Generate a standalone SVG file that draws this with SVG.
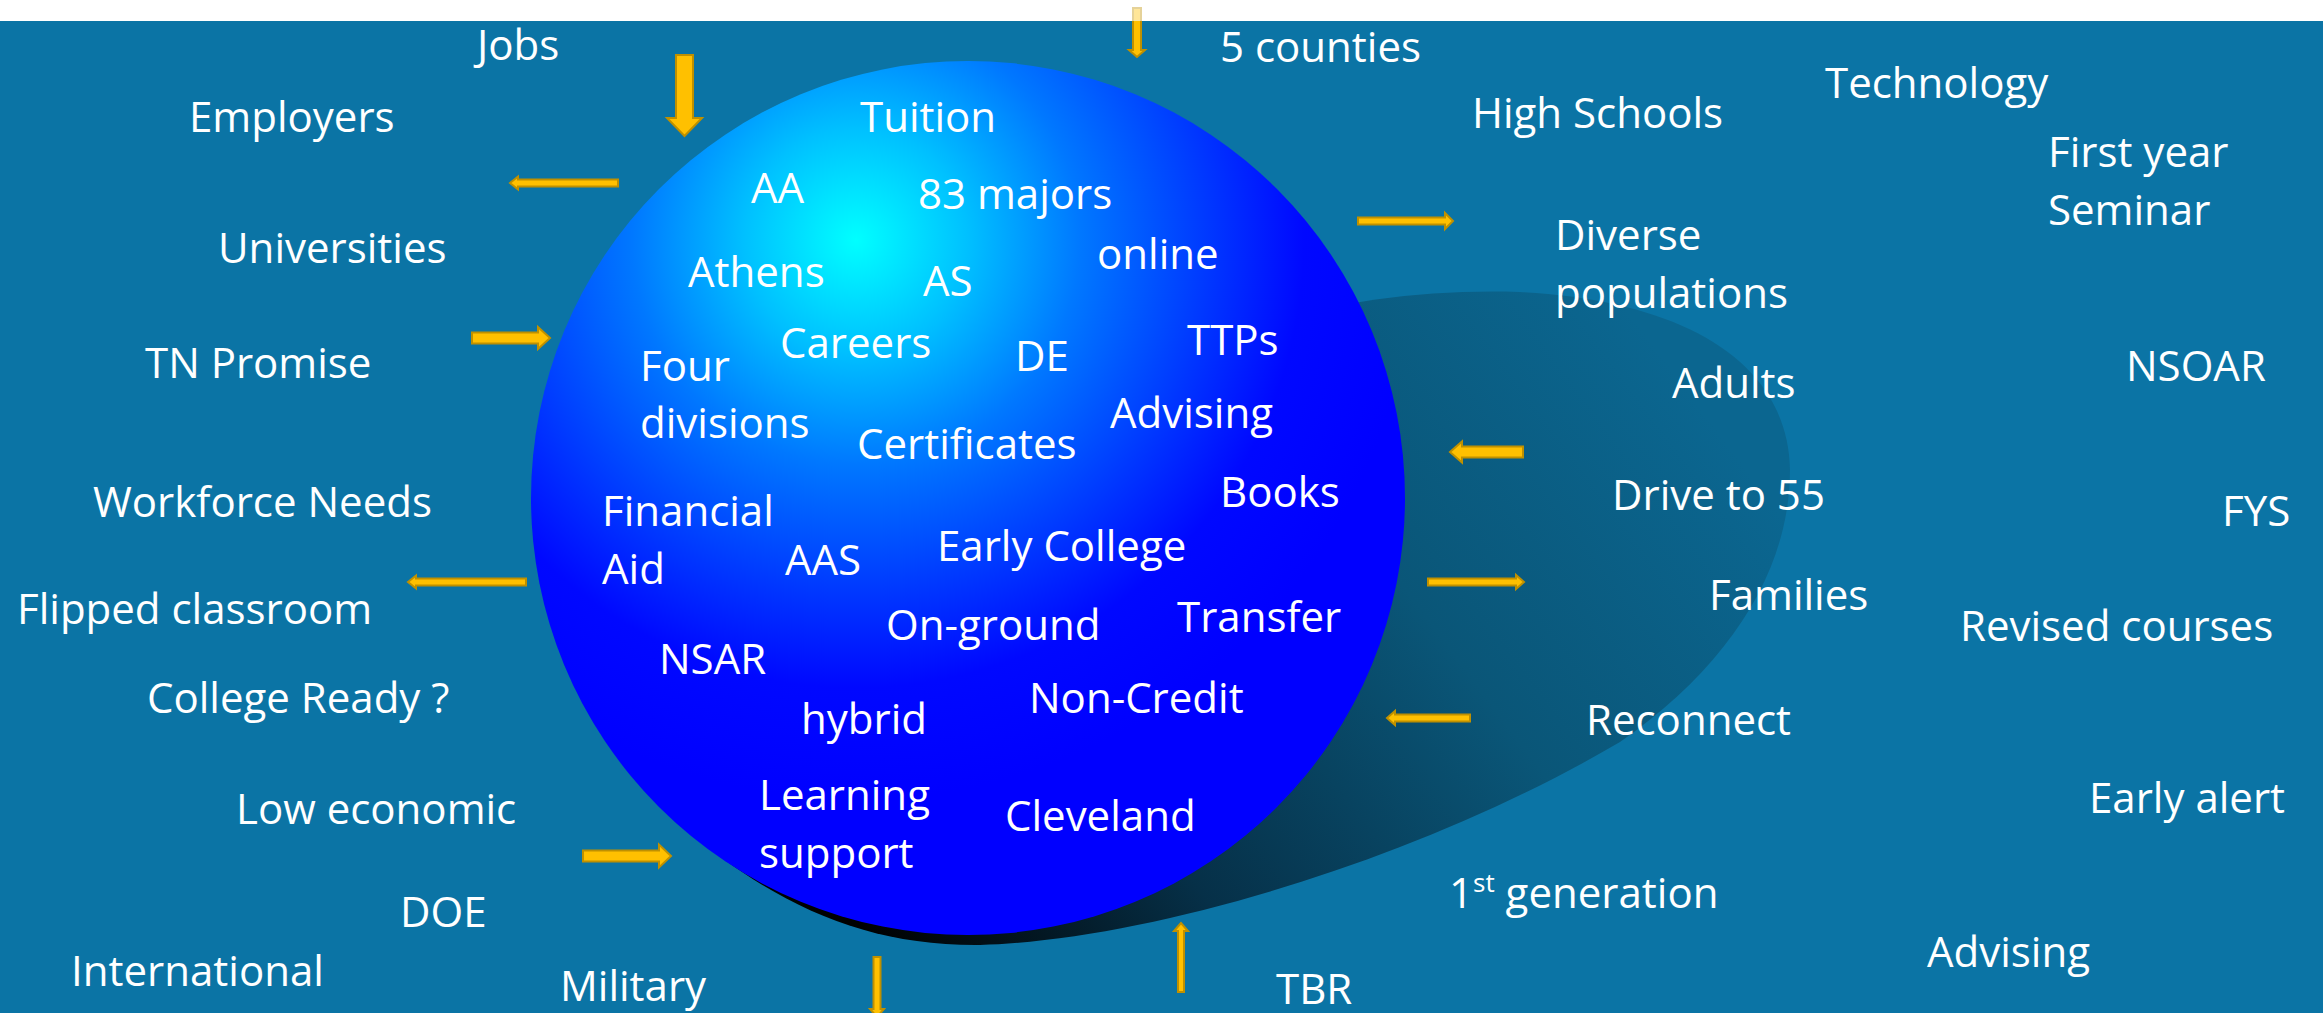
<svg xmlns="http://www.w3.org/2000/svg" width="2323" height="1013" viewBox="0 0 2323 1013">
<style>
.t{font-family:"Open Sans","Noto Sans",sans-serif;font-size:42px;fill:#ffffff}
.ar{fill:#FFC000;stroke:#BF9000;stroke-width:2;stroke-linejoin:miter}
</style>
<defs>
<radialGradient id="sph" gradientUnits="userSpaceOnUse" cx="856" cy="240" r="560" fx="856" fy="240">
<stop offset="0" stop-color="#00FFFF"/>
<stop offset="0.2" stop-color="#00C0FF"/>
<stop offset="0.4" stop-color="#0078FF"/>
<stop offset="0.6" stop-color="#0040FF"/>
<stop offset="0.8" stop-color="#0008FF"/>
<stop offset="1" stop-color="#0000FF"/>
</radialGradient>
<linearGradient id="shd" gradientUnits="userSpaceOnUse" x1="1650" y1="340" x2="860" y2="930">
<stop offset="0" stop-color="#0B6690"/>
<stop offset="0.35" stop-color="#0A5678"/>
<stop offset="0.7" stop-color="#063048"/>
<stop offset="1" stop-color="#000000"/>
</linearGradient>
</defs>
<rect x="0" y="0" width="2323" height="1013" fill="#0B74A5"/>
<rect x="0" y="0" width="2323" height="21" fill="#ffffff"/>
<path d="M722 858 C800 915 880 946 980 945 C1150 940 1420 860 1620 742 C1730 665 1790 570 1790 470 C1788 360 1680 300 1520 292 C1400 288 1280 310 1200 350 L968 498 Z" fill="url(#shd)"/>
<circle cx="968" cy="498" r="437" fill="url(#sph)"/>

<g id="connectors">
<path class="ar" d="M510 183 L518 176.5 L518 179.5 L618 179.5 L618 186.5 L518 186.5 L518 189.5 Z"/>
<path class="ar" d="M550 338 L538 327 L538 332.5 L472 332.5 L472 343.5 L538 343.5 L538 349 Z"/>
<path class="ar" d="M408 582 L416 575.5 L416 578.5 L526 578.5 L526 585.5 L416 585.5 L416 588.5 Z"/>
<path class="ar" d="M671 856 L659 844.5 L659 850.5 L583 850.5 L583 861.5 L659 861.5 L659 867.5 Z"/>
<path class="ar" d="M1453 221 L1445 213 L1445 217.5 L1358 217.5 L1358 224.5 L1445 224.5 L1445 229 Z"/>
<path class="ar" d="M1450 452 L1462 441.5 L1462 446.5 L1523 446.5 L1523 457.5 L1462 457.5 L1462 462.5 Z"/>
<path class="ar" d="M1524 582 L1516 575 L1516 578.5 L1428 578.5 L1428 585.5 L1516 585.5 L1516 589 Z"/>
<path class="ar" d="M1387 718 L1395 711 L1395 714.5 L1470 714.5 L1470 721.5 L1395 721.5 L1395 725 Z"/>
<path class="ar" d="M684.5 136 L667 118 L676 118 L676 55 L693 55 L693 118 L702 118 Z"/>
<path class="ar" d="M1137 57 L1129 50 L1133 50 L1133 8 L1141 8 L1141 50 L1145 50 Z"/>
<path class="ar" d="M877 1017 L870 1009 L873.5 1009 L873.5 957 L880.5 957 L880.5 1009 L884 1009 Z"/>
<path class="ar" d="M1181 923 L1174 931 L1178 931 L1178 992 L1184 992 L1184 931 L1188 931 Z"/>
</g>
<rect x="0" y="0" width="2323" height="21" fill="#ffffff" fill-opacity="0.6"/>

<g id="n-jobs"><text class="t" x="477" y="60">Jobs</text></g>
<g id="n-employers"><text class="t" x="189" y="132">Employers</text></g>
<g id="n-universities"><text class="t" x="218" y="263">Universities</text></g>
<g id="n-tnpromise"><text class="t" x="145" y="378">TN Promise</text></g>
<g id="n-workforce"><text class="t" x="93" y="517">Workforce Needs</text></g>
<g id="n-flipped"><text class="t" x="17" y="624">Flipped classroom</text></g>
<g id="n-collegeready"><text class="t" x="147" y="713">College Ready ?</text></g>
<g id="n-loweconomic"><text class="t" x="236" y="824">Low economic</text></g>
<g id="n-doe"><text class="t" x="400" y="927">DOE</text></g>
<g id="n-international"><text class="t" x="71" y="986">International</text></g>
<g id="n-military"><text class="t" x="560" y="1001">Military</text></g>
<g id="n-tbr"><text class="t" x="1276" y="1004">TBR</text></g>
<g id="n-5counties"><text class="t" x="1220" y="62">5 counties</text></g>
<g id="n-highschools"><text class="t" x="1472" y="128">High Schools</text></g>
<g id="n-technology"><text class="t" x="1825" y="98">Technology</text></g>
<g id="n-fys-seminar"><text class="t" x="2048" y="167">First year</text><text class="t" x="2048" y="225">Seminar</text></g>
<g id="n-diverse"><text class="t" x="1555" y="250">Diverse</text><text class="t" x="1555" y="308">populations</text></g>
<g id="n-adults"><text class="t" x="1672" y="398">Adults</text></g>
<g id="n-nsoar"><text class="t" x="2126" y="381">NSOAR</text></g>
<g id="n-drive55"><text class="t" x="1612" y="510">Drive to 55</text></g>
<g id="n-fys"><text class="t" x="2222" y="526">FYS</text></g>
<g id="n-families"><text class="t" x="1709" y="610">Families</text></g>
<g id="n-revised"><text class="t" x="1960" y="641">Revised courses</text></g>
<g id="n-reconnect"><text class="t" x="1586" y="735">Reconnect</text></g>
<g id="n-earlyalert"><text class="t" x="2089" y="813">Early alert</text></g>
<g id="n-firstgen"><text class="t" x="1449" y="908">1<tspan font-size="26" dy="-16">st</tspan><tspan dy="16"> generation</tspan></text></g>
<g id="n-advising-out"><text class="t" x="1927" y="967">Advising</text></g>

<g id="n-tuition"><text class="t" x="860" y="132">Tuition</text></g>
<g id="n-aa"><text class="t" x="751" y="203">AA</text></g>
<g id="n-83majors"><text class="t" x="918" y="209">83 majors</text></g>
<g id="n-athens"><text class="t" x="688" y="287">Athens</text></g>
<g id="n-as"><text class="t" x="923" y="296">AS</text></g>
<g id="n-online"><text class="t" x="1097" y="269">online</text></g>
<g id="n-careers"><text class="t" x="780" y="358">Careers</text></g>
<g id="n-de"><text class="t" x="1015" y="371">DE</text></g>
<g id="n-ttps"><text class="t" x="1187" y="355">TTPs</text></g>
<g id="n-fourdiv"><text class="t" x="640" y="381">Four</text><text class="t" x="640" y="438">divisions</text></g>
<g id="n-certificates"><text class="t" x="857" y="459">Certificates</text></g>
<g id="n-advising-in"><text class="t" x="1110" y="428">Advising</text></g>
<g id="n-books"><text class="t" x="1220" y="507">Books</text></g>
<g id="n-finaid"><text class="t" x="602" y="526">Financial</text><text class="t" x="602" y="584">Aid</text></g>
<g id="n-aas"><text class="t" x="785" y="575">AAS</text></g>
<g id="n-earlycollege"><text class="t" x="937" y="561">Early College</text></g>
<g id="n-onground"><text class="t" x="886" y="640">On-ground</text></g>
<g id="n-transfer"><text class="t" x="1177" y="632">Transfer</text></g>
<g id="n-nsar"><text class="t" x="659" y="674">NSAR</text></g>
<g id="n-hybrid"><text class="t" x="801" y="734">hybrid</text></g>
<g id="n-noncredit"><text class="t" x="1029" y="713">Non-Credit</text></g>
<g id="n-learning"><text class="t" x="759" y="810">Learning</text><text class="t" x="759" y="868">support</text></g>
<g id="n-cleveland"><text class="t" x="1005" y="831">Cleveland</text></g>
</svg>
